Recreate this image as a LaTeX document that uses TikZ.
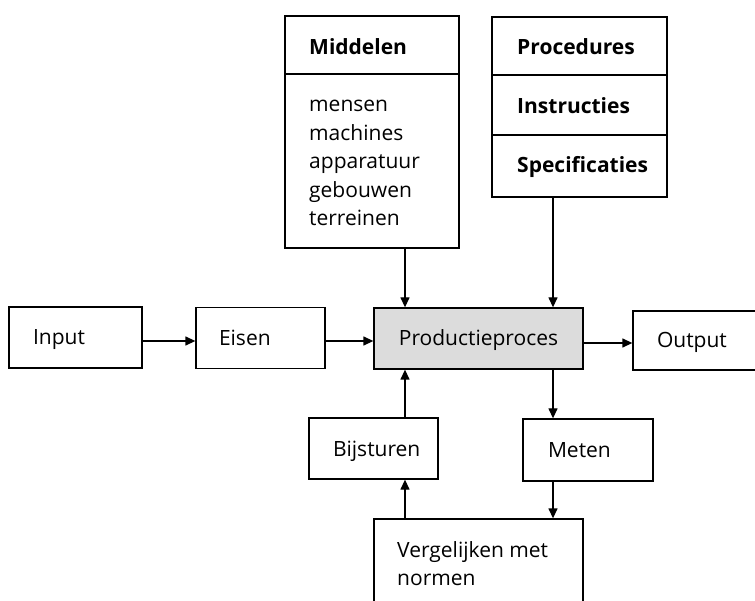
\documentclass[tikz,border=0pt]{standalone}
\usepackage{fontspec}
\setmainfont{Open Sans}
\usetikzlibrary{arrows.meta}
\definecolor{procfill}{HTML}{DCDCDC}
\begin{document}
\begin{tikzpicture}[x=1pt,y=-1pt,
  every node/.style={font=\fontsize{21}{28.5}\selectfont},
  frame/.style={draw=black, line width=1.3pt, inner sep=0pt},
  box/.style={frame, minimum height=61pt, text height=15pt, text depth=0pt, align=left},
  lbl/.style={anchor=base west, inner sep=0pt},
  arr/.style={line width=1.3pt, -{Triangle[length=10pt,width=9pt]}}
]
\clip (0,0) rectangle (755,601);

% column positions of the vertical connectors
\coordinate (cl) at (405,0);
\coordinate (cr) at (553,0);

% resources block
\node[frame, minimum width=174pt, minimum height=232pt] (mid) at (372,132) {};
\draw[line width=1.3pt] (mid.west |- 0,74) -- (mid.east |- 0,74);
\node[lbl] (tmid) at (309,55) {\bfseries Middelen};
\foreach \t [count=\i from 0] in {mensen,machines,apparatuur,gebouwen,terreinen}
  \node[lbl] (m\i) at (309,112+28.5*\i) {\t};

% procedures block
\node[frame, minimum width=175pt, minimum height=180pt] (proc) at (579.5,107) {};
\draw[line width=1.3pt] (proc.west |- 0,75) -- (proc.east |- 0,75);
\draw[line width=1.3pt] (proc.west |- 0,135) -- (proc.east |- 0,135);
\node[lbl] (tpro) at (517,55) {\bfseries Procedures};
\node[lbl] (tins) at (517,114) {\bfseries Instructies};
\node[lbl] (tspe) at (517,173) {\bfseries Specificaties};

% main row
\node[box, minimum width=133pt, text width=85pt] (input) at (75.5,337.5) {Input};
\node[box, minimum width=129pt, text width=83pt] (eisen) at (260.5,338) {Eisen};
\node[box, minimum width=209pt, fill=procfill, align=center] (prod) at (478.5,338.5) {Productieproces};
\node[box, minimum width=170pt, text width=122pt, minimum height=59pt] (output) at (718,340.5) {Output};

% control loop
\node[box, minimum width=129pt, text width=81pt] (bij) at (373.5,448.5) {Bijsturen};
\node[box, minimum width=130pt, text width=80pt, minimum height=62pt] (meten) at (588,450) {Meten};
\node[frame, minimum width=209pt, minimum height=120pt] (verg) at (478.5,579) {};
\node[lbl] (tv1) at (397,557) {Vergelijken met};
\node[lbl] (tv2) at (397,585) {normen};

% connectors
\draw[arr] ([yshift=-3.5pt]input.east) -- ([yshift=-3.5pt]input.east -| eisen.west);
\draw[arr] ([yshift=-3pt]eisen.east) -- ([yshift=-3pt]eisen.east -| prod.west);
\draw[arr] ([yshift=-4.5pt]prod.east) -- ([yshift=-4.5pt]prod.east -| output.west);
\draw[arr] (mid.south -| cl) -- (prod.north -| cl);
\draw[arr] (proc.south -| cr) -- (prod.north -| cr);
\draw[arr] (prod.south -| cr) -- (meten.north -| cr);
\draw[arr] (meten.south -| cr) -- (verg.north -| cr);
\draw[arr] (verg.north -| cl) -- (bij.south -| cl);
\draw[arr] (bij.north -| cl) -- (prod.south -| cl);
\end{tikzpicture}
\end{document}
